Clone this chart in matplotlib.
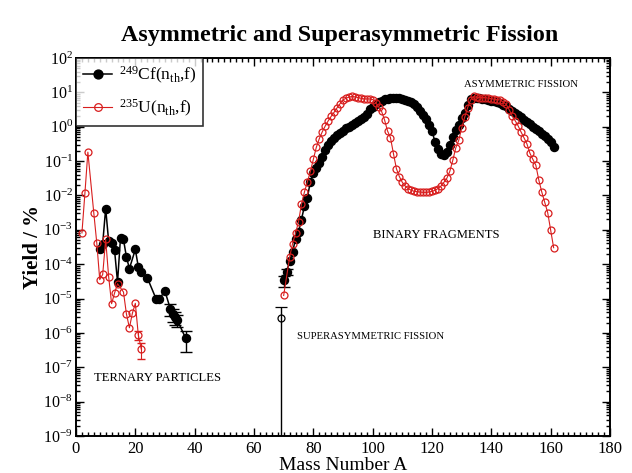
import numpy as np
import matplotlib
matplotlib.use("Agg")
import matplotlib.pyplot as plt
from matplotlib.ticker import MultipleLocator, LogLocator, NullFormatter

plt.rcParams['font.family'] = ['Liberation Serif', 'DejaVu Serif']
plt.rcParams['mathtext.fontset'] = 'custom'
plt.rcParams['mathtext.rm'] = 'Liberation Serif'
plt.rcParams['mathtext.it'] = 'Liberation Serif:italic'
plt.rcParams['mathtext.bf'] = 'Liberation Serif:bold'

# ---- data (log10 of yield in %) ----
cf_tern_A = [8, 9, 10, 11, 12, 13, 14, 15, 16, 17, 18, 20, 21, 22, 24, 27, 28, 30,
             31.8, 32.7, 33.5, 34.1, 37]
cf_tern_logY = [-3.55, -3.40, -2.38, -3.33, -3.37, -3.60, -4.52, -3.23, -3.28, -3.79,
                -4.13, -3.57, -4.08, -4.23, -4.39, -5.01, -5.01, -4.79,
                -5.30, -5.45, -5.54, -5.62, -6.16]
cf_tern_relerr = [0, 0, 0, 0, 0, 0, 0, 0, 0, 0, 0, 0, 0, 0, 0, 0, 0, 0,
                  0.4, 0.4, 0.4, 0.4, 0.6]

u_tern_A = [2, 3, 4, 6, 7, 8, 9, 10, 11, 12, 13, 14, 16, 17, 18, 19, 20, 21, 22]
u_tern_logY = [-3.09, -1.94, -0.74, -2.51, -3.38, -4.45, -4.30, -3.28, -4.36, -5.15,
               -4.84, -4.57, -4.81, -5.45, -5.85, -5.43, -5.14, -6.06, -6.47]
u_tern_relerr = [0, 0, 0, 0, 0, 0, 0, 0, 0, 0, 0, 0, 0, 0, 0, 0, 0, 0.3, 0.5]

cf_bin_A = list(range(70, 162))
cf_bin_logY = [-4.47, -4.23, -3.91, -3.65, -3.26, -3.06, -2.70, -2.31, -2.06, -1.60,
               -1.35, -1.20, -1.05, -0.87, -0.68, -0.54, -0.42, -0.32, -0.23, -0.17,
               -0.11, -0.05, 0.00, 0.05, 0.11, 0.17, 0.23, 0.29, 0.36, 0.52,
               0.58, 0.65, 0.71, 0.76, 0.80, 0.82, 0.83, 0.84, 0.84, 0.83,
               0.82, 0.79, 0.75, 0.71, 0.65, 0.58, 0.47, 0.35, 0.22, 0.06,
               -0.13, -0.43, -0.66, -0.80, -0.83, -0.75, -0.52, -0.30, -0.10, 0.05,
               0.25, 0.40, 0.62, 0.80, 0.83, 0.83, 0.83, 0.82, 0.81, 0.79,
               0.76, 0.74, 0.71, 0.68, 0.64, 0.60, 0.53, 0.46, 0.40, 0.34,
               0.27, 0.21, 0.14, 0.07, 0.00, -0.06, -0.12, -0.20, -0.28, -0.36,
               -0.45, -0.58]
cf_bin_relerr = [0.35, 0.2] + [0] * 90

u_bin_A = [70] + list(range(72, 162))
u_bin_logY = [-4.91, -3.80, -3.40, -3.10, -2.77, -2.25, -1.90, -1.60, -1.30, -0.95,
              -0.60, -0.35, -0.15, 0.02, 0.17, 0.30, 0.42, 0.55, 0.67, 0.78,
              0.83, 0.86, 0.88, 0.87, 0.85, 0.83, 0.81, 0.81, 0.81, 0.79,
              0.70, 0.58, 0.45, 0.20, -0.12, -0.32, -0.78, -1.22, -1.45, -1.62,
              -1.73, -1.80, -1.85, -1.88, -1.89, -1.90, -1.91, -1.91, -1.90, -1.88,
              -1.85, -1.80, -1.73, -1.62, -1.50, -1.30, -0.98, -0.62, -0.40, -0.04,
              0.27, 0.55, 0.78, 0.88, 0.86, 0.85, 0.85, 0.85, 0.83, 0.82,
              0.80, 0.79, 0.78, 0.72, 0.65, 0.50, 0.32, 0.18, 0.03, -0.15,
              -0.32, -0.50, -0.77, -0.95, -1.12, -1.55, -1.90, -2.20, -2.50, -3.01,
              -3.52]

sa_A = [69]
sa_Y = [2.7e-6]
sa_err_up = [2.9e-6]

labels = [r'$^{249}$Cf(n$_{\rm th}$,f)', r'$^{235}$U(n$_{\rm th}$,f)']
red = '#d81e1e'

fig = plt.figure(figsize=(6.32, 4.73), dpi=100)
ax = fig.add_axes([76/632, 1-436/473, (610-76)/632, (436-58)/473])
ax.set_yscale('log')

def yv(l):
    return 10 ** np.asarray(l)

# Cf ternary
y = yv(cf_tern_logY)
ax.plot(cf_tern_A, y, '-o', color='black', ms=5.8, lw=1.1, label=labels[0])
e = y * np.asarray(cf_tern_relerr)
m = e > 0
ax.errorbar(np.asarray(cf_tern_A)[m], y[m], yerr=e[m], fmt='none', ecolor='black',
            elinewidth=1, capsize=4)
# Cf binary
y = yv(cf_bin_logY)
ax.plot(cf_bin_A, y, '-o', color='black', ms=5.8, lw=1.1)
e = y * np.asarray(cf_bin_relerr)
m = e > 0
ax.errorbar(np.asarray(cf_bin_A)[m], y[m], yerr=e[m], fmt='none', ecolor='black',
            elinewidth=1, capsize=4)

# U ternary
y = yv(u_tern_logY)
ax.plot(u_tern_A, y, '-o', color=red, mfc='none', mec=red, ms=5, mew=0.9, lw=0.8,
        label=labels[1])
e = y * np.asarray(u_tern_relerr)
m = e > 0
ax.errorbar(np.asarray(u_tern_A)[m], y[m], yerr=e[m], fmt='none', ecolor=red,
            elinewidth=0.8, capsize=3)
# U binary
ax.plot(u_bin_A, yv(u_bin_logY), '-o', color=red, mfc='none', mec=red, ms=5,
        mew=0.9, lw=0.8)

# superasymmetric open point
sa_Y_arr = np.asarray(sa_Y)
ax.errorbar(sa_A, sa_Y_arr, yerr=[sa_Y_arr * 0.99999, sa_err_up], fmt='o', mfc='none',
            mec='black', color='black', ms=5, mew=0.9, elinewidth=1, capsize=4)

ax.set_xlim(0, 180)
ax.set_ylim(1e-9, 1e2)
ax.xaxis.set_major_locator(MultipleLocator(20))
ax.xaxis.set_minor_locator(MultipleLocator(2))
ax.yaxis.set_major_locator(LogLocator(base=10, numticks=20))
ax.yaxis.set_minor_locator(LogLocator(base=10, subs=np.arange(2, 10), numticks=20))
ax.yaxis.set_minor_formatter(NullFormatter())
ax.tick_params(which='both', direction='in', top=True, right=True, width=1)
ax.tick_params(axis='x', which='major', length=6, labelsize=12, pad=3.5)
ax.tick_params(axis='y', which='major', length=6, labelsize=11.5, pad=2.2)
ax.tick_params(which='minor', length=3)
for s in ax.spines.values():
    s.set_linewidth(1.4)

ax.set_ylabel('Yield / %', fontsize=15, fontweight='bold', labelpad=0)
fig.text(0.543, 3.0/473, 'Mass Number A', ha='center', va='baseline', fontsize=14)
fig.text(0.538, 1 - 35/473, 'Asymmetric and Superasymmetric Fission', ha='center',
         va='center', fontsize=17.3, fontweight='bold')

ax.text(130.8, 10**1.22, 'ASYMMETRIC FISSION', fontsize=7.7, va='center', ha='left')
ax.text(100.2, 10**-3.16, 'BINARY FRAGMENTS', fontsize=9.1, va='center', ha='left')
ax.text(74.6, 10**-6.1, 'SUPERASYMMETRIC FISSION', fontsize=7.7, va='center', ha='left')
ax.text(5.9, 10**-7.3, 'TERNARY PARTICLES', fontsize=9.1, va='center', ha='left')

leg = ax.legend(loc='upper left', bbox_to_anchor=(0, 1), borderaxespad=0,
                fontsize=12.5, frameon=True, fancybox=False, edgecolor='black',
                handlelength=1.7, handletextpad=0.35, borderpad=0.4, labelspacing=0.7,
                markerscale=1.1)
leg.get_frame().set_linewidth(1.2)

fig.savefig('out.png', dpi=100)
